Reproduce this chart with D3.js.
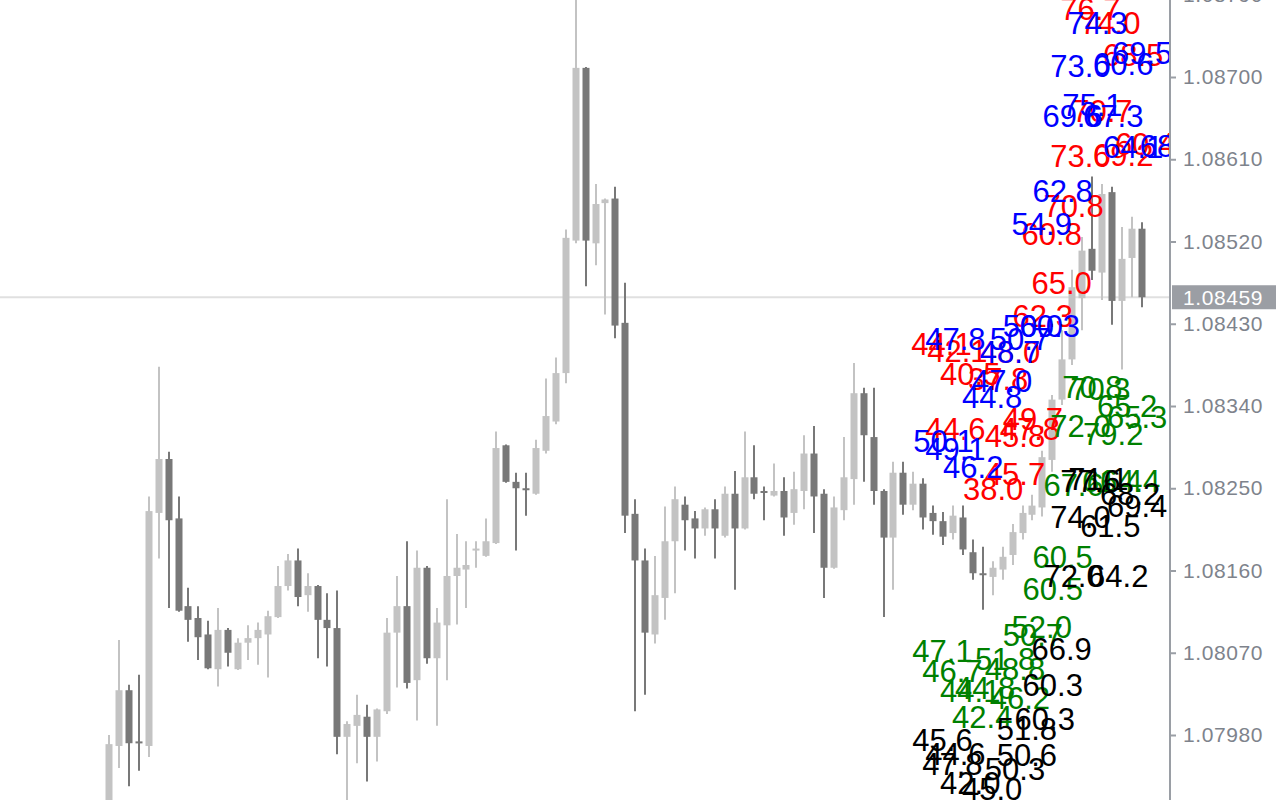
<!DOCTYPE html>
<html><head><meta charset="utf-8">
<script src="https://cdn.jsdelivr.net/npm/d3@7"></script>
<style>html,body{margin:0;padding:0;background:#fff;overflow:hidden}</style>
</head><body>
<svg id="chart" width="1280" height="800"></svg>
<script>
// OHLC per bar (index 0..104)
const opens  = [1.07876,1.07968,1.08029,1.07973,1.07968,1.08223,1.08282,1.08217,1.08121,1.08108,1.08090,1.08052,1.08095,1.08052,1.08081,1.08086,1.08090,1.08109,1.08143,1.08171,1.08133,1.08143,1.08106,1.08097,1.07978,1.07990,1.08000,1.07978,1.08006,1.08092,1.08121,1.08040,1.08163,1.08064,1.08100,1.08154,1.08161,1.08182,1.08176,1.08190,1.08297,1.08257,1.08250,1.08244,1.08291,1.08323,1.08376,1.08521,1.08710,1.08518,1.08562,1.08567,1.08431,1.08222,1.08171,1.08090,1.08130,1.08192,1.08232,1.08217,1.08206,1.08227,1.08198,1.08244,1.08206,1.08262,1.08247,1.08242,1.08247,1.08223,1.08247,1.08288,1.08244,1.08163,1.08226,1.08260,1.08354,1.08306,1.08247,1.08196,1.08267,1.08232,1.08255,1.08223,1.08214,1.08201,1.08218,1.08180,1.08157,1.08153,1.08161,1.08177,1.08201,1.08221,1.08229,1.08281,1.08347,1.08391,1.08458,1.08512,1.08486,1.08574,1.08455,1.08502,1.08534];
const highs  = [1.07980,1.08084,1.08035,1.08046,1.08241,1.08383,1.08290,1.08241,1.08141,1.08121,1.08105,1.08119,1.08097,1.08086,1.08100,1.08103,1.08116,1.08165,1.08178,1.08184,1.08157,1.08144,1.08135,1.08138,1.07995,1.08024,1.08013,1.08009,1.08108,1.08154,1.08192,1.08182,1.08165,1.08119,1.08238,1.08200,1.08192,1.08192,1.08217,1.08312,1.08298,1.08267,1.08267,1.08303,1.08370,1.08393,1.08533,1.08795,1.08711,1.08583,1.08567,1.08580,1.08475,1.08238,1.08184,1.08176,1.08230,1.08252,1.08241,1.08225,1.08229,1.08238,1.08252,1.08269,1.08312,1.08297,1.08252,1.08277,1.08262,1.08268,1.08308,1.08318,1.08249,1.08241,1.08306,1.08387,1.08360,1.08360,1.08249,1.08279,1.08279,1.08268,1.08261,1.08231,1.08224,1.08231,1.08231,1.08194,1.08186,1.08170,1.08186,1.08211,1.08231,1.08243,1.08291,1.08352,1.08423,1.08489,1.08525,1.08591,1.08583,1.08580,1.08536,1.08547,1.08541];
const lows   = [1.07865,1.07944,1.07924,1.07941,1.07956,1.08173,1.08119,1.08115,1.08082,1.08062,1.08052,1.08033,1.08055,1.08051,1.08062,1.08057,1.08043,1.08108,1.08138,1.08121,1.08115,1.08064,1.08055,1.07959,1.07898,1.07949,1.07929,1.07951,1.08003,1.08032,1.08031,1.07996,1.08058,1.07990,1.08040,1.08101,1.08119,1.08163,1.08175,1.08189,1.08256,1.08182,1.08220,1.08243,1.08288,1.08320,1.08365,1.08518,1.08471,1.08494,1.08440,1.08414,1.08201,1.08006,1.08024,1.08080,1.08106,1.08135,1.08182,1.08173,1.08198,1.08173,1.08196,1.08139,1.08205,1.08238,1.08215,1.08241,1.08198,1.08210,1.08227,1.08201,1.08130,1.08162,1.08215,1.08232,1.08257,1.08232,1.08109,1.08139,1.08221,1.08226,1.08205,1.08199,1.08188,1.08194,1.08177,1.08150,1.08117,1.08133,1.08150,1.08166,1.08194,1.08215,1.08219,1.08268,1.08341,1.08385,1.08423,1.08478,1.08456,1.08429,1.08380,1.08459,1.08448];
const closes = [1.07970,1.08029,1.07971,1.07972,1.08225,1.08282,1.08215,1.08116,1.08106,1.08087,1.08053,1.08095,1.08070,1.08081,1.08086,1.08095,1.08110,1.08143,1.08171,1.08131,1.08143,1.08106,1.08097,1.07978,1.07992,1.08002,1.07978,1.08008,1.08092,1.08121,1.08037,1.08163,1.08064,1.08103,1.08154,1.08163,1.08166,1.08184,1.08192,1.08294,1.08257,1.08250,1.08249,1.08294,1.08329,1.08376,1.08524,1.08710,1.08521,1.08561,1.08566,1.08428,1.08220,1.08171,1.08092,1.08133,1.08192,1.08238,1.08215,1.08206,1.08227,1.08206,1.08244,1.08206,1.08262,1.08244,1.08245,1.08247,1.08218,1.08249,1.08288,1.08241,1.08163,1.08229,1.08262,1.08354,1.08308,1.08247,1.08196,1.08267,1.08232,1.08255,1.08218,1.08214,1.08197,1.08220,1.08183,1.08157,1.08155,1.08163,1.08175,1.08202,1.08223,1.08231,1.08284,1.08347,1.08391,1.08470,1.08510,1.08488,1.08572,1.08455,1.08501,1.08534,1.08459];

const yTicks = [1.07980,1.08070,1.08160,1.08250,1.08340,1.08430,1.08520,1.08610,1.08700,1.08790];
const lastPrice = 1.08459;

// value labels: [bar position, price level, text]
const redLabels = [
  [95.8,1.08762,"76.7"],[97.8,1.08747,"74.0"],[100.1,1.08712,"68.5"],[94.8,1.08601,"73.0"],
  [99.1,1.08603,"69.2"],[101.3,1.08615,"60.4"],[97.0,1.08651,"70.7"],[94.1,1.08547,"70.8"],
  [91.9,1.08516,"60.8"],[92.9,1.08463,"65.0"],[91.0,1.08426,"62.3"],[80.8,1.08396,"44.1"],
  [82.4,1.08388,"42.1"],[87.7,1.08387,"48.0"],[83.7,1.08363,"40.5"],[86.5,1.08358,"37.8"],
  [90.0,1.08314,"49.7"],[89.7,1.08303,"47.8"],[88.2,1.08295,"45.8"],[82.2,1.08303,"44.6"],
  [88.2,1.08254,"45.7"],[86.0,1.08237,"38.0"]
];
const blueLabels = [
  [96.5,1.08747,"74.3"],[94.8,1.08700,"73.0"],[99.1,1.08702,"60.6"],[101.0,1.08714,"69.5"],
  [96.0,1.08657,"75.1"],[94.0,1.08645,"69.6"],[98.1,1.08645,"67.3"],[100.1,1.08611,"64.1"],
  [103.8,1.08613,"68.1"],[93.0,1.08563,"62.8"],[90.9,1.08527,"54.9"],[82.2,1.08401,"47.8"],
  [87.7,1.08387,"48.7"],[88.7,1.08401,"50.7"],[90.0,1.08416,"50.0"],[91.7,1.08416,"60.3"],
  [86.9,1.08355,"47.0"],[85.9,1.08338,"44.8"],[81.0,1.08290,"50.1"],[82.2,1.08281,"49.1"],
  [84.0,1.08261,"46.2"]
];
const greenLabels = [
  [96.0,1.08349,"70.8"],[96.8,1.08347,"70.3"],[99.5,1.08328,"65.2"],[100.5,1.08316,"65.3"],
  [94.8,1.08306,"72.0"],[98.1,1.08297,"79.2"],[94.1,1.08241,"67.6"],[98.0,1.08246,"61.4"],
  [99.8,1.08246,"64.4"],[93.0,1.08163,"60.5"],[92.0,1.08128,"60.5"],[90.9,1.08086,"52.0"],
  [90.0,1.08077,"50.7"],[80.9,1.08060,"47.1"],[81.9,1.08038,"46.7"],[87.2,1.08051,"51.8"],
  [88.2,1.08040,"48.8"],[83.7,1.08016,"44.1"],[85.2,1.08019,"44.8"],[84.9,1.07988,"42.4"],
  [88.7,1.08008,"46.2"]
];
const blackLabels = [
  [95.8,1.08246,"77.6"],[96.6,1.08248,"71.1"],[99.8,1.08232,"68.2"],[100.5,1.08219,"69.4"],
  [94.8,1.08207,"74.0"],[97.8,1.08197,"61.5"],[94.1,1.08142,"72.0"],[98.6,1.08142,"64.2"],
  [92.9,1.08062,"66.9"],[92.0,1.08023,"60.3"],[91.2,1.07986,"60.3"],[89.4,1.07975,"51.8"],
  [80.9,1.07962,"45.6"],[82.2,1.07947,"44.6"],[89.4,1.07946,"50.6"],[81.9,1.07936,"47.8"],
  [88.2,1.07931,"50.3"],[83.7,1.07915,"42.0"],[85.9,1.07909,"45.0"]
];

const W = 1280, H = 800, plotRight = 1170;
const svg = d3.select("#chart");
const x = d3.scaleLinear().domain([0, 104]).range([109, 1141.7]);
const y = d3.scaleLinear().domain([1.07980, 1.08700]).range([735, 77]);

svg.append("defs").append("clipPath").attr("id","plot")
  .append("rect").attr("x",0).attr("y",0).attr("width",plotRight).attr("height",H);

const plot = svg.append("g").attr("clip-path","url(#plot)");

// last price line
plot.append("line").attr("x1",0).attr("x2",plotRight)
  .attr("y1",y(lastPrice)).attr("y2",y(lastPrice))
  .attr("stroke","#e0e0e0").attr("stroke-width",2);

const bars = d3.range(opens.length).map(i => ({i, o:opens[i], h:highs[i], l:lows[i], c:closes[i]}));
const up = "#c3c3c3", down = "#787878";
const cg = plot.append("g");
cg.selectAll("line.wick").data(bars).join("line").attr("class","wick")
  .attr("x1",d=>Math.round(x(d.i))).attr("x2",d=>Math.round(x(d.i)))
  .attr("y1",d=>y(d.h)).attr("y2",d=>y(d.l))
  .attr("stroke",d=>d.c>=d.o?up:down).attr("stroke-width",2);
cg.selectAll("rect.body").data(bars).join("rect").attr("class","body")
  .attr("x",d=>Math.round(x(d.i))-3.5).attr("width",7)
  .attr("y",d=>Math.min(y(d.o),y(d.c)))
  .attr("height",d=>Math.max(2,Math.abs(y(d.o)-y(d.c))))
  .attr("fill",d=>d.c>=d.o?up:down);

// labels
const groups = [[redLabels,"#ff0000"],[blueLabels,"#0000ff"],[greenLabels,"#008000"],[blackLabels,"#000000"]];
groups.forEach(([arr,col]) => {
  plot.append("g").selectAll("text").data(arr).join("text")
    .attr("x",d=>x(d[0])).attr("y",d=>y(d[1]))
    .attr("fill",col)
    .attr("font-family","'Liberation Sans', Arial, sans-serif")
    .attr("font-size",31)
    .text(d=>d[2]);
});

// right axis
const axis = d3.axisRight(y).tickValues(yTicks).tickFormat(d3.format(".5f")).tickSize(6).tickPadding(7);
const ag = svg.append("g").attr("transform",`translate(${plotRight},0)`).call(axis);
ag.select(".domain").attr("stroke","#9a9ea5").attr("stroke-width",2).attr("d",`M0,0V${H}`);
ag.selectAll(".tick line").attr("stroke","#9a9ea5").attr("stroke-width",2);
ag.selectAll(".tick text").attr("fill","#7e838c")
  .attr("font-family","'Liberation Sans', Arial, sans-serif").attr("font-size",21)
  .attr("letter-spacing","0.6px");

// last price tag
const tag = svg.append("g").attr("transform",`translate(${plotRight+2},${y(lastPrice)})`);
tag.append("rect").attr("x",0).attr("y",-12).attr("width",104).attr("height",24).attr("fill","#9b9ea4");
tag.append("text").attr("x",11).attr("y",0).attr("dy","0.35em").attr("fill","#ffffff")
  .attr("font-family","'Liberation Sans', Arial, sans-serif").attr("font-size",21)
  .attr("letter-spacing","0.6px").text(d3.format(".5f")(lastPrice));
</script>
</body></html>
